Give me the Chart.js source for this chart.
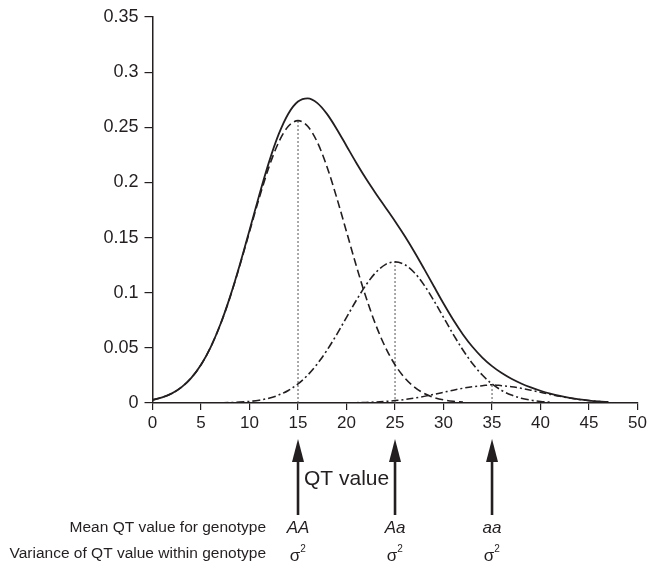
<!DOCTYPE html>
<html>
<head>
<meta charset="utf-8">
<script src="https://cdn.jsdelivr.net/npm/chart.js@4/dist/chart.umd.min.js"></script>
<style>
  html, body { margin: 0; padding: 0; background: #fff; }
  #wrap { width: 650px; height: 571px; }
</style>
</head>
<body>
<div id="wrap"><canvas id="chart" width="650" height="571"></canvas></div>
<script>
// QT values along the x axis (one sample per unit)
const qtValues = [
  0, 1, 2, 3, 4, 5, 6, 7, 8, 9,
  10, 11, 12, 13, 14, 15, 16, 17, 18, 19,
  20, 21, 22, 23, 24, 25, 26, 27, 28, 29,
  30, 31, 32, 33, 34, 35, 36, 37, 38, 39,
  40, 41, 42, 43, 44, 45, 46, 47, 48, 49, 50
];

// overall distribution (solid line)
const totalDensity = [
  0.00284, 0.00508, 0.00872, 0.01438, 0.02278, 0.03469, 0.05075, 0.07138, 0.09648, 0.12538,
  0.15669, 0.18843, 0.21819, 0.24350, 0.26231, 0.27333, 0.27627, 0.27194, 0.26192, 0.24829,
  0.23309, 0.21788, 0.20353, 0.19024, 0.17755, 0.16482, 0.15140, 0.13698, 0.12163, 0.10582,
  0.09018, 0.07545, 0.06219, 0.05075, 0.04120, 0.03341, 0.02710, 0.02195, 0.01772, 0.01416,
  0.01112, 0.00856, 0.00640, 0.00465, 0.00326, 0.00221, 0.00144, 0.00090, null, null, null
];

// genotype AA (dashed)
const densityAA = [
  0.00284, 0.00508, 0.00872, 0.01437, 0.02276, 0.03465, 0.05066, 0.07118, 0.09608, 0.12461,
  0.15527, 0.18589, 0.21383, 0.23632, 0.25093, 0.25600, 0.25093, 0.23632, 0.21383, 0.18589,
  0.15527, 0.12461, 0.09608, 0.07118, 0.05066, 0.03465, 0.02276, 0.01437, 0.00872, 0.00508,
  0.00284, 0.00153, 0.00079, null, null, null, null, null, null, null,
  null, null, null, null, null, null, null, null, null, null, null
];

// genotype Aa (dash-dot)
const densityAa = [
  null, null, null, null, null, null, null, 0.00020, 0.00040, 0.00077,
  0.00142, 0.00254, 0.00436, 0.00718, 0.01138, 0.01732, 0.02533, 0.03559, 0.04804, 0.06230,
  0.07764, 0.09295, 0.10691, 0.11816, 0.12547, 0.12800, 0.12547, 0.11816, 0.10691, 0.09295,
  0.07764, 0.06230, 0.04804, 0.03559, 0.02533, 0.01732, 0.01138, 0.00718, 0.00436, 0.00254,
  0.00142, 0.00077, null, null, null, null, null, null, null, null, null
];

// genotype aa (dash-dot)
const densityaa = [
  null, null, null, null, null, null, null, null, null, null,
  null, null, null, null, null, null, null, null, null, null,
  0.00018, 0.00032, 0.00054, 0.00090, 0.00142, 0.00217, 0.00317, 0.00445, 0.00600, 0.00779,
  0.00970, 0.01162, 0.01336, 0.01477, 0.01568, 0.01650, 0.01568, 0.01477, 0.01336, 0.01162,
  0.00970, 0.00779, 0.00600, 0.00445, 0.00317, 0.00217, 0.00142, 0.00090, null, null, null
];

// genotype means and peak heights (dotted drop lines + arrows)
const genotypeNames = ['AA', 'Aa', 'aa'];
const genotypeMeans = [15, 25, 35];
const genotypePeaks = [0.256, 0.128, 0.0165];

// axis ticks
const xTickValues = [0, 5, 10, 15, 20, 25, 30, 35, 40, 45, 50];
const xTickLabels = ['0', '5', '10', '15', '20', '25', '30', '35', '40', '45', '50'];
const yTickValues = [0, 0.05, 0.1, 0.15, 0.2, 0.25, 0.3, 0.35];
const yTickLabels = ['0', '0.05', '0.1', '0.15', '0.2', '0.25', '0.3', '0.35'];

const FONT = '"Liberation Sans", Arial, Helvetica, sans-serif';
const INK = '#231f20';

function toPoints(values) {
    return qtValues
        .map((x, i) => ({ x: x, y: values[i] }))
        .filter(p => p.y !== null);
}

function curve(values, dash, width) {
    return {
        data: toPoints(values),
        borderColor: INK,
        borderWidth: width,
        borderDash: dash,
        pointRadius: 0,
        fill: false,
        cubicInterpolationMode: 'monotone'
    };
}

const dropLines = genotypeMeans.map((m, i) => ({
    data: [{ x: m, y: 0 }, { x: m, y: genotypePeaks[i] }],
    borderColor: '#555',
    borderWidth: 1,
    borderDash: [2, 2],
    pointRadius: 0,
    fill: false
}));

// arrows and genotype labels under the axis
const annotationPlugin = {
    id: 'genotypeNotes',
    afterDraw(chart) {
        const ctx = chart.ctx;
        const xs = chart.scales.x;
        ctx.save();
        ctx.fillStyle = INK;
        ctx.strokeStyle = INK;

        genotypeMeans.forEach((m, i) => {
            const px = xs.getPixelForValue(m);
            ctx.lineWidth = 2.6;
            ctx.beginPath();
            ctx.moveTo(px, 515);
            ctx.lineTo(px, 458);
            ctx.stroke();
            ctx.beginPath();
            ctx.moveTo(px, 439);
            ctx.lineTo(px - 6, 462);
            ctx.lineTo(px + 6, 462);
            ctx.closePath();
            ctx.fill();

            ctx.textAlign = 'center';
            ctx.textBaseline = 'middle';
            ctx.font = 'italic 17px ' + FONT;
            ctx.fillText(genotypeNames[i], px, 528);
            ctx.font = '17px ' + FONT;
            ctx.fillText('\u03c3', px - 3, 556);
            ctx.font = '10px ' + FONT;
            ctx.fillText('2', px + 5, 549);
        });

        ctx.textAlign = 'left';
        ctx.textBaseline = 'middle';
        ctx.font = '21px ' + FONT;
        ctx.fillText('QT value', xs.getPixelForValue(15) + 6, 479);

        ctx.textAlign = 'right';
        ctx.font = '15.5px ' + FONT;
        ctx.fillText('Mean QT value for genotype', 266, 528);
        ctx.fillText('Variance of QT value within genotype', 266, 554);
        ctx.restore();
    }
};

const ctx = document.getElementById('chart').getContext('2d');
new Chart(ctx, {
    type: 'line',
    data: {
        datasets: [
            curve(totalDensity, [], 1.8),
            curve(densityAA, [8, 4], 1.6),
            curve(densityAa, [8, 3, 2, 3], 1.6),
            curve(densityaa, [7, 3, 2, 3], 1.5),
            ...dropLines
        ]
    },
    options: {
        responsive: false,
        animation: false,
        layout: { padding: { left: 0, top: 17, right: 9, bottom: 128 } },
        plugins: {
            legend: { display: false },
            tooltip: { enabled: false }
        },
        scales: {
            x: {
                type: 'linear',
                min: 0,
                max: 50,
                afterFit(scale) { scale.height = 40; },
                afterBuildTicks(scale) { scale.ticks = xTickValues.map(v => ({ value: v })); },
                ticks: {
                    color: INK,
                    font: { family: FONT, size: 17 },
                    padding: 3,
                    maxRotation: 0,
                    callback: (v, i) => xTickLabels[i]
                },
                grid: {
                    drawOnChartArea: false,
                    drawTicks: true,
                    tickLength: 7,
                    color: INK,
                    lineWidth: 1.2
                },
                border: { display: true, color: INK, width: 1.5 }
            },
            y: {
                min: 0,
                max: 0.35,
                afterFit(scale) { scale.width = 152.5; },
                afterBuildTicks(scale) { scale.ticks = yTickValues.map(v => ({ value: v })); },
                ticks: {
                    color: INK,
                    font: { family: FONT, size: 18 },
                    padding: 6,
                    callback: (v, i) => yTickLabels[i]
                },
                grid: {
                    drawOnChartArea: false,
                    drawTicks: true,
                    tickLength: 8,
                    color: INK,
                    lineWidth: 1.2
                },
                border: { display: true, color: INK, width: 1.5 }
            }
        }
    },
    plugins: [annotationPlugin]
});
</script>
</body>
</html>
